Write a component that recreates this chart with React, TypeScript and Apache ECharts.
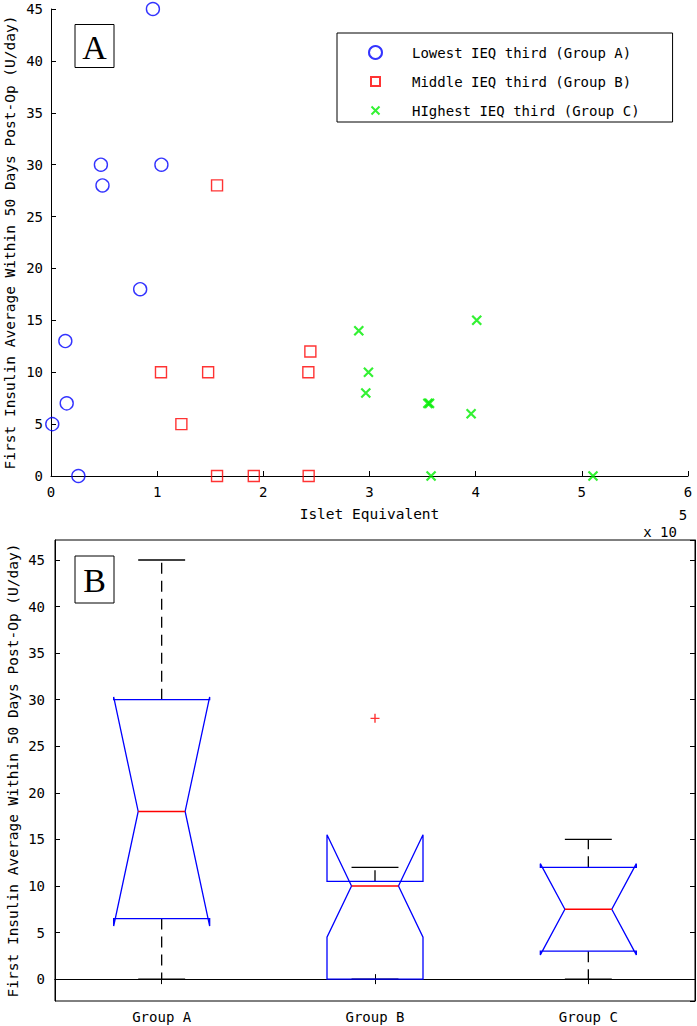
import React, { useEffect, useRef } from 'react';
import * as echarts from 'echarts';

// ---------- Panel A data (Islet Equivalent vs insulin) ----------
const groupA_ieq = [96000, 47000, 48500, 104000, 84000, 13500, 14800, 1200, 25800];
const groupA_ins = [45, 30, 28, 30, 18, 13, 7, 5, 0];
const groupB_ieq = [156400, 103600, 148000, 122800, 244300, 242400, 156400, 191000, 242700];
const groupB_ins = [28, 10, 10, 5, 12, 10, 0, 0, 0];
const groupC_ieq = [289900, 299000, 296500, 355000, 356500, 395700, 401000, 358000, 510500];
const groupC_ins = [14, 10, 8, 7, 7, 6, 15, 0, 0];
const seriesNames = ['Lowest IEQ third (Group A)', 'Middle IEQ third (Group B)', 'HIghest IEQ third (Group C)'];

// ---------- Panel B data (notched box plot statistics) ----------
const groupNames = ['Group A', 'Group B', 'Group C'];
const boxQ1 = [6.5, 0, 3];
const boxMedian = [18, 10, 7.5];
const boxQ3 = [30, 10.5, 12];
const notchLow = [5.7, 4.5, 2.6];
const notchHigh = [30.3, 15.5, 12.4];
const whiskerLow = [0, 0, 0];
const whiskerHigh = [45, 12, 15];
const outlierGroup = ['Group B'];
const outlierValue = [28];

const yName = 'First Insulin Average Within 50 Days Post-Op (U/day)';
const MONO = 'DejaVu Sans Mono';

const pairs = (xs: number[], ys: number[]) => xs.map((x, i) => [x, ys[i]]);

function buildOption(): any {
  const axisLine = { show: true, lineStyle: { color: '#000', width: 1 } };
  const label = { color: '#000', fontFamily: MONO, fontSize: 14 };
  const every5 = (v: number) =>
    Math.abs(v - Math.round(v / 5) * 5) < 1e-6 ? String(Math.round(v)) : '';

  return {
    animation: false,
    backgroundColor: '#fff',
    grid: [
      { left: 51, right: 9, top: 9, bottom: 550, outerBoundsMode: 'none', containLabel: false },
      {
        left: 55, right: 2, top: 540, bottom: 25, outerBoundsMode: 'none', containLabel: false,
        show: true, borderColor: '#000', borderWidth: 1, backgroundColor: 'transparent',
      },
    ],
    xAxis: [
      {
        type: 'value', gridIndex: 0, min: 0, max: 600000, interval: 100000,
        axisLine, splitLine: { show: false },
        axisTick: { show: true, inside: true, length: 5, lineStyle: { color: '#000' } },
        axisLabel: { ...label, margin: 9, formatter: (v: number) => String(Math.round(v / 100000)) },
        name: 'Islet Equivalent', nameLocation: 'middle', nameGap: 30, nameMoveOverlap: false,
        nameTextStyle: { color: '#000', fontFamily: MONO, fontSize: 14.5 },
      },
      {
        type: 'category', gridIndex: 1, data: groupNames, boundaryGap: true, position: 'bottom',
        axisLine, splitLine: { show: false },
        axisTick: { show: true, inside: true, alignWithLabel: true, length: 5, lineStyle: { color: '#000' } },
        axisLabel: { ...label, margin: 9 },
      },
      {
        type: 'category', gridIndex: 1, data: groupNames, boundaryGap: true, position: 'top',
        axisLine, splitLine: { show: false },
        axisTick: { show: true, inside: true, alignWithLabel: true, length: 5, lineStyle: { color: '#000' } },
        axisLabel: { show: false },
      },
    ],
    yAxis: [
      {
        type: 'value', gridIndex: 0, min: 0, max: 45, interval: 5,
        axisLine, splitLine: { show: false },
        axisTick: { show: true, inside: true, length: 5, lineStyle: { color: '#000' } },
        axisLabel: { ...label, margin: 8 },
        name: yName, nameLocation: 'middle', nameRotate: 90, nameGap: 34, nameMoveOverlap: false,
        nameTextStyle: { color: '#000', fontFamily: MONO, fontSize: 14.5 },
      },
      {
        type: 'value', gridIndex: 1, min: -2.35, max: 47.15, splitNumber: 10, position: 'left',
        axisLine, splitLine: { show: false },
        axisTick: { show: true, inside: true, length: 5, lineStyle: { color: '#000' } },
        axisLabel: { ...label, margin: 10, formatter: every5, showMinLabel: false, showMaxLabel: false },
        name: yName, nameLocation: 'middle', nameRotate: 90, nameGap: 35, nameMoveOverlap: false,
        nameTextStyle: { color: '#000', fontFamily: MONO, fontSize: 14.5 },
      },
      {
        type: 'value', gridIndex: 1, min: -2.35, max: 47.15, splitNumber: 10, position: 'right',
        axisLine, splitLine: { show: false },
        axisTick: { show: true, inside: true, length: 5, lineStyle: { color: '#000' } },
        axisLabel: { show: false },
      },
    ],
    legend: {
      orient: 'vertical', left: 337, top: 33,
      data: [
        { name: seriesNames[0], icon: 'circle' },
        { name: seriesNames[1], icon: 'path://M0,0M13,13M2,2L11,2L11,11L2,11Z' },
        { name: seriesNames[2], icon: 'path://M0,0M13,13M2.5,2.5L10.5,10.5M10.5,2.5L2.5,10.5' },
      ],
      backgroundColor: '#fff', borderColor: '#000', borderWidth: 1, borderRadius: 0,
      padding: [12, 33, 4, 31],
      itemWidth: 63, itemHeight: 13, itemGap: 14,
      symbolKeepAspect: true,
      textStyle: { color: '#000', fontFamily: MONO, fontSize: 14, lineHeight: 13 },
      selectedMode: false,
    },
    graphic: [
      { type: 'rect', shape: { x: 75, y: 24.5, width: 39, height: 43 }, style: { fill: '#fff', stroke: '#000', lineWidth: 1 }, z: 100 },
      { type: 'text', x: 94.5, y: 47, style: { text: 'A', fontFamily: 'Liberation Serif', fontSize: 34, fill: '#000', align: 'center', verticalAlign: 'middle' }, z: 101 },
      { type: 'rect', shape: { x: 75, y: 556, width: 39, height: 47 }, style: { fill: '#fff', stroke: '#000', lineWidth: 1 }, z: 100 },
      { type: 'text', x: 94.5, y: 580, style: { text: 'B', fontFamily: 'Liberation Serif', fontSize: 34, fill: '#000', align: 'center', verticalAlign: 'middle' }, z: 101 },
      { type: 'text', x: 660, y: 532, style: { text: 'x 10', fontFamily: MONO, fontSize: 14, fill: '#000', align: 'center', verticalAlign: 'middle' } },
      { type: 'text', x: 683, y: 515, style: { text: '5', fontFamily: MONO, fontSize: 14, fill: '#000', align: 'center', verticalAlign: 'middle' } },
    ],
    series: [
      {
        name: seriesNames[0], type: 'scatter', xAxisIndex: 0, yAxisIndex: 0, clip: false,
        data: pairs(groupA_ieq, groupA_ins), symbol: 'circle', symbolSize: 13,
        itemStyle: { color: 'rgba(0,0,0,0)', borderColor: '#0000ff', borderWidth: 1.4 },
      },
      {
        name: seriesNames[1], type: 'scatter', xAxisIndex: 0, yAxisIndex: 0, clip: false,
        data: pairs(groupB_ieq, groupB_ins), symbol: 'rect', symbolSize: 11,
        itemStyle: { color: 'rgba(0,0,0,0)', borderColor: '#ff0000', borderWidth: 1.4 },
      },
      {
        name: seriesNames[2], type: 'scatter', xAxisIndex: 0, yAxisIndex: 0, clip: false,
        data: pairs(groupC_ieq, groupC_ins), symbol: 'path://M0,0L10,10M10,0L0,10', symbolSize: 9,
        itemStyle: { color: 'rgba(0,0,0,0)', borderColor: '#00ee00', borderWidth: 2.2 },
      },
      {
        name: 'box', type: 'custom', xAxisIndex: 1, yAxisIndex: 1, clip: false,
        data: groupNames.map((g, i) => [i, boxQ1[i], boxMedian[i], boxQ3[i], notchLow[i], notchHigh[i], whiskerLow[i], whiskerHigh[i]]),
        encode: { x: 0, y: [1, 2, 3, 4, 5, 6, 7] },
        renderItem: (params: any, api: any) => {
          const i = api.value(0);
          const y = (v: number) => api.coord([i, v])[1];
          const cx = api.coord([i, api.value(2)])[0];
          const band = api.size([1, 0])[0];
          const hw = band * 0.225;
          const nw = band * 0.11;
          const L = cx - hw, R = cx + hw;
          const q1 = api.value(1), med = api.value(2), q3 = api.value(3);
          const nl = api.value(4), nh = api.value(5), wl = api.value(6), wh = api.value(7);
          const dash = { stroke: '#000', lineWidth: 1.3, lineDash: [11, 7], fill: 'none' };
          const solid = { stroke: '#000', lineWidth: 1.3, fill: 'none' };
          const children: any[] = [];
          if (wh !== q3) children.push({ type: 'line', shape: { x1: cx, y1: y(q3), x2: cx, y2: y(wh) }, style: dash });
          if (wl !== q1) children.push({ type: 'line', shape: { x1: cx, y1: y(q1), x2: cx, y2: y(wl) }, style: dash });
          children.push({ type: 'line', shape: { x1: cx - nw, y1: y(wh), x2: cx + nw, y2: y(wh) }, style: solid });
          children.push({ type: 'line', shape: { x1: cx - nw, y1: y(wl), x2: cx + nw, y2: y(wl) }, style: solid });
          children.push({
            type: 'polygon',
            shape: {
              points: [
                [L, y(q1)], [L, y(nl)], [cx - nw, y(med)], [L, y(nh)], [L, y(q3)],
                [R, y(q3)], [R, y(nh)], [cx + nw, y(med)], [R, y(nl)], [R, y(q1)],
              ],
            },
            style: { fill: 'none', stroke: '#0000ff', lineWidth: 1.3 },
          });
          children.push({ type: 'line', shape: { x1: cx - nw, y1: y(med), x2: cx + nw, y2: y(med) }, style: { stroke: '#ff0000', lineWidth: 1.5 } });
          return { type: 'group', children };
        },
      },
      {
        name: 'outliers', type: 'scatter', xAxisIndex: 1, yAxisIndex: 1, clip: false,
        data: outlierGroup.map((g, k) => [g, outlierValue[k]]),
        symbol: 'path://M5,0L5,10M0,5L10,5', symbolSize: 9,
        itemStyle: { color: 'rgba(0,0,0,0)', borderColor: '#ff0000', borderWidth: 1.4 },
      },
    ],
  };
}

export default function App() {
  const ref = useRef<HTMLDivElement>(null);
  useEffect(() => {
    document.body.style.margin = '0';
    const chart = echarts.init(ref.current!, null, { renderer: 'svg' });
    chart.setOption(buildOption());
    return () => chart.dispose();
  }, []);
  return <div ref={ref} style={{ width: 697, height: 1026 }} />;
}
